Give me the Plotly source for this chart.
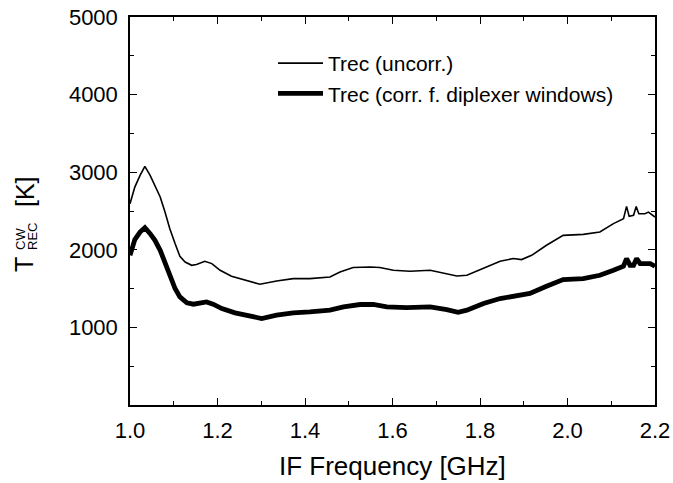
import plotly.graph_objects as go

# IF frequency [GHz] and receiver temperature [K]
freq_uncorr = [1.000, 1.011, 1.023, 1.034, 1.046, 1.057, 1.069, 1.080, 1.091, 1.103,
               1.114, 1.126, 1.141, 1.152, 1.171, 1.187, 1.206, 1.232, 1.263, 1.297,
               1.335, 1.373, 1.411, 1.457, 1.480, 1.510, 1.549, 1.571, 1.602, 1.640,
               1.686, 1.724, 1.747, 1.770, 1.808, 1.846, 1.876, 1.895, 1.918, 1.952,
               1.990, 2.036, 2.074, 2.105, 2.128, 2.135, 2.141, 2.151, 2.157, 2.163,
               2.177, 2.185, 2.200]
trec_uncorr = [2594, 2808, 2958, 3074, 2958, 2830, 2680, 2486, 2272, 2080,
               1916, 1843, 1800, 1810, 1852, 1822, 1736, 1659, 1608, 1556,
               1599, 1629, 1629, 1650, 1715, 1771, 1779, 1771, 1736, 1723,
               1736, 1694, 1662, 1672, 1758, 1852, 1887, 1874, 1929, 2058,
               2186, 2199, 2229, 2337, 2401, 2559, 2431, 2444, 2559, 2465,
               2465, 2486, 2422]

freq_corr = [1.000, 1.011, 1.023, 1.034, 1.046, 1.057, 1.069, 1.080, 1.091, 1.103,
             1.114, 1.130, 1.145, 1.160, 1.175, 1.190, 1.210, 1.240, 1.270, 1.301,
             1.335, 1.373, 1.411, 1.457, 1.488, 1.526, 1.556, 1.587, 1.632, 1.686,
             1.724, 1.750, 1.770, 1.808, 1.846, 1.884, 1.914, 1.952, 1.990, 2.036,
             2.074, 2.105, 2.128, 2.135, 2.143, 2.151, 2.158, 2.166, 2.189, 2.200]
trec_corr = [1929, 2131, 2229, 2285, 2208, 2122, 1994, 1822, 1650, 1501,
             1393, 1316, 1299, 1321, 1329, 1299, 1243, 1187, 1149, 1115,
             1158, 1187, 1200, 1222, 1264, 1295, 1295, 1264, 1256, 1264,
             1230, 1195, 1222, 1308, 1372, 1402, 1437, 1531, 1617, 1629,
             1672, 1736, 1788, 1887, 1801, 1801, 1887, 1822, 1822, 1788]

x_ticks = [1.0, 1.2, 1.4, 1.6, 1.8, 2.0, 2.2]
x_tick_labels = ["1.0", "1.2", "1.4", "1.6", "1.8", "2.0", "2.2"]
y_ticks = [1000, 2000, 3000, 4000, 5000]
y_tick_labels = ["1000", "2000", "3000", "4000", "5000"]

FONT = "Liberation Sans, Arial, sans-serif"

fig = go.Figure()
fig.add_trace(go.Scatter(x=freq_uncorr, y=trec_uncorr, mode="lines",
                         name="Trec (uncorr.)",
                         line=dict(color="black", width=1.6)))
fig.add_trace(go.Scatter(x=freq_corr, y=trec_corr, mode="lines",
                         name="Trec (corr. f. diplexer windows)",
                         line=dict(color="black", width=4.8)))

L, R, T, B = 130, 18, 17, 78
W, H = 673, 483
pw, ph = W - L - R, H - T - B

def px(xp):
    return (xp - L) / pw

def py(yp):
    return (H - B - yp) / ph

axis_common = dict(showline=True, linecolor="black", linewidth=1.5,
                   mirror="ticks", ticks="inside", ticklen=7, tickwidth=1.2,
                   tickcolor="black", showgrid=False, zeroline=False,
                   automargin=False,
                   tickfont=dict(family=FONT, size=22, color="black"))

fig.update_layout(
    width=W, height=H,
    margin=dict(l=L, r=R, t=T, b=B, autoexpand=False),
    plot_bgcolor="white", paper_bgcolor="white",
    font=dict(family=FONT, color="black"),
    showlegend=True,
    legend=dict(x=px(273), y=py(43), xanchor="left", yanchor="top",
                bgcolor="rgba(0,0,0,0)", font=dict(family=FONT, size=21),
                itemwidth=45),
    xaxis=dict(range=[1.0, 2.2], tickvals=x_ticks, ticktext=x_tick_labels,
               minor=dict(dtick=0.1, ticks="inside", ticklen=4, tickcolor="black", tickwidth=1.2),
               ticklabelstandoff=5,
               **axis_common),
    yaxis=dict(range=[0, 5000], tickvals=y_ticks, ticktext=y_tick_labels,
               minor=dict(dtick=500, ticks="inside", ticklen=4, tickcolor="black", tickwidth=1.2),
               ticklabelstandoff=6,
               **axis_common),
)

annos = [
    dict(text="IF Frequency [GHz]", x=px(392), y=py(466), size=26, angle=0),
    dict(text="T", x=px(24), y=py(265), size=25, angle=-90),
    dict(text="CW", x=px(20), y=py(239), size=13, angle=-90),
    dict(text="REC", x=px(32), y=py(237), size=13, angle=-90),
    dict(text="[K]", x=px(25), y=py(192), size=25, angle=-90),
]
for a in annos:
    fig.add_annotation(text=a["text"], x=a["x"], y=a["y"], xref="paper", yref="paper",
                       xanchor="center", yanchor="middle", showarrow=False,
                       textangle=a["angle"],
                       font=dict(family=FONT, size=a["size"], color="black"))

fig.write_html("out.html",
               config={"displayModeBar": False},
               post_script="document.body.style.margin='0';document.body.style.overflow='hidden';")
